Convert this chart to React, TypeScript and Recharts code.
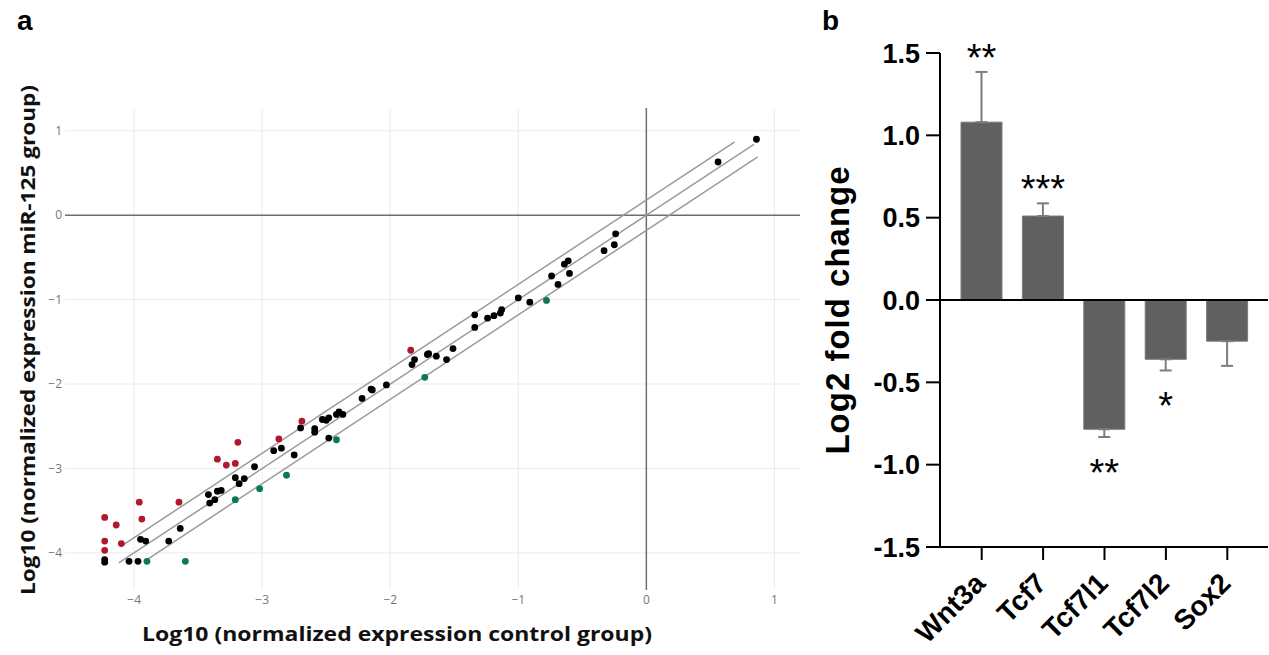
import React from "react"
import {
  Bar,
  BarChart,
  ErrorBar,
  Label,
  LabelList,
  ReferenceLine,
  Scatter,
  ScatterChart,
  XAxis,
  YAxis,
} from "recharts"

// panel a: log10 expression, [control, miR-125]
const upRegulated: [number, number][] = [
  [-4.23, -3.58], [-4.14, -3.67], [-4.23, -3.86], [-4.23, -3.97], [-4.1, -3.89],
  [-3.96, -3.4], [-3.94, -3.6], [-3.65, -3.4], [-3.35, -2.89], [-3.28, -2.96],
  [-3.21, -2.94], [-3.19, -2.69], [-2.87, -2.65], [-2.69, -2.44], [-1.84, -1.6],
]

const downRegulated: [number, number][] = [
  [-3.9, -4.1], [-3.6, -4.1], [-3.21, -3.37], [-3.02, -3.24],
  [-2.81, -3.08], [-2.42, -2.66], [-1.73, -1.92], [-0.78, -1.01],
]

const unchanged: [number, number][] = [
  [-4.23, -4.08], [-4.23, -4.11], [-4.04, -4.1], [-3.97, -4.1], [-3.95, -3.84],
  [-3.91, -3.86], [-3.73, -3.86], [-3.64, -3.71], [-3.42, -3.31], [-3.41, -3.41],
  [-3.37, -3.37], [-3.35, -3.27], [-3.32, -3.26], [-3.21, -3.11], [-3.18, -3.18],
  [-3.14, -3.12], [-3.06, -2.98], [-2.91, -2.79], [-2.85, -2.76], [-2.75, -2.84],
  [-2.7, -2.52], [-2.59, -2.53], [-2.59, -2.57], [-2.53, -2.42], [-2.5, -2.43],
  [-2.48, -2.4], [-2.48, -2.64], [-2.42, -2.36], [-2.4, -2.33], [-2.37, -2.36],
  [-2.22, -2.17], [-2.15, -2.06], [-2.14, -2.07], [-2.03, -2.01], [-1.83, -1.77],
  [-1.81, -1.71], [-1.71, -1.65], [-1.7, -1.64], [-1.64, -1.67], [-1.56, -1.71],
  [-1.51, -1.58], [-1.34, -1.33], [-1.34, -1.18], [-1.24, -1.22], [-1.19, -1.19],
  [-1.14, -1.16], [-1.13, -1.12], [-0.91, -1.03], [-1.0, -0.98], [-0.74, -0.72],
  [-0.69, -0.82], [-0.6, -0.69], [-0.64, -0.58], [-0.61, -0.54], [-0.33, -0.42],
  [-0.25, -0.35], [-0.24, -0.22], [0.56, 0.63], [0.86, 0.9],
]

// fold-change threshold lines, [x1, y1, x2, y2]
const thresholdLines: [number, number, number, number][] = [
  [-4.08, -3.9, 0.69, 0.87],
  [-4.12, -4.12, 0.84, 0.84],
  [-3.92, -4.1, 0.87, 0.69],
]

const scatterTicks = [-4, -3, -2, -1, 0, 1]
const gridValues = [-4, -3, -2, -1, 1]

// panel b
const genes = ["Wnt3a", "Tcf7", "Tcf7l1", "Tcf7l2", "Sox2"]
const log2Fold = [1.08, 0.51, -0.785, -0.36, -0.25]
const sem = [0.305, 0.077, 0.047, 0.068, 0.15]
const stars = ["**", "***", "**", "*", ""]
const barTicks = [-1.5, -1, -0.5, 0, 0.5, 1, 1.5]

const toPoints = (list: [number, number][]) => list.map(([x, y]) => ({ x, y }))

const barRows = genes.map((gene, i) => ({
  gene,
  value: log2Fold[i],
  err: log2Fold[i] >= 0 ? [0, sem[i]] : [sem[i], 0],
}))

const ARIAL = "'Liberation Sans', Arial, sans-serif"
const TITLE_FONT = "'Open Sans', 'Noto Sans', sans-serif"

const minus = (v: number) => (v < 0 ? `\u2212${-v}` : `${v}`)

const dot = (color: string) => (p: any) => <circle cx={p.cx} cy={p.cy} r={3.4} fill={color} />

const GeneTick = (props: any) => {
  const { x, y, payload } = props
  const px = x + 5
  const py = y + 23
  return (
    <text
      x={px}
      y={py}
      transform={`rotate(-45 ${px} ${py})`}
      textAnchor="end"
      fontFamily={ARIAL}
      fontWeight="bold"
      fontSize={28}
      fill="#000"
    >
      {payload.value}
    </text>
  )
}

const StarLabel = (props: any) => {
  const vb = props.viewBox ?? props
  const { x, y, width, height, value, index } = { ...vb, value: props.value, index: props.index }
  const i = typeof index === "number" ? index : log2Fold.indexOf(value)
  const text = stars[i]
  if (!text) return null
  const top = Math.min(y, y + height)
  const bottom = Math.max(y, y + height)
  const ppu = Math.abs(height) / Math.abs(value)
  const center = value >= 0 ? top - sem[i] * ppu - 23 : bottom + sem[i] * ppu + 27
  return (
    <text x={x + width / 2} y={center + 22} textAnchor="middle" fontFamily={ARIAL} fontSize={38} fill="#000">
      {text}
    </text>
  )
}

export default function App() {
  return (
    <div style={{ position: "absolute", left: 0, top: 0, width: 1269, height: 655, background: "#fff" }}>
      <div style={{ position: "absolute", left: 0, top: 0 }}>
        <ScatterChart width={820} height={655} margin={{ top: 108, right: 20, bottom: 20, left: 15 }}>
          <XAxis
            type="number"
            dataKey="x"
            domain={[-4.54, 1.2]}
            ticks={scatterTicks}
            allowDataOverflow
            axisLine={false}
            tickLine={false}
            tickSize={0}
            tickMargin={5}
            height={45}
            tickFormatter={minus}
            tick={{ fill: "#777", fontSize: 12, fontFamily: TITLE_FONT }}
          >
            <Label
              content={(p: any) => (
                <text
                  x={397}
                  y={p.viewBox.y + 51}
                  textAnchor="middle"
                  fontFamily={TITLE_FONT}
                  fontWeight={700}
                  fontSize={20}
                  fill="#111"
                  textLength={510}
                  lengthAdjust="spacingAndGlyphs"
                >
                  Log10 (normalized expression control group)
                </text>
              )}
            />
          </XAxis>
          <YAxis
            type="number"
            dataKey="y"
            domain={[-4.44, 1.27]}
            ticks={scatterTicks}
            allowDataOverflow
            axisLine={false}
            tickLine={false}
            tickSize={0}
            tickMargin={3}
            width={50}
            tickFormatter={minus}
            tick={{ fill: "#777", fontSize: 12, fontFamily: TITLE_FONT }}
          >
            <Label
              content={(p: any) => {
                const tx = p.viewBox.x + 20
                const ty = 340
                return (
                  <text
                    x={tx}
                    y={ty}
                    transform={`rotate(-90 ${tx} ${ty})`}
                    textAnchor="middle"
                    fontFamily={TITLE_FONT}
                    fontWeight={700}
                    fontSize={20}
                    fill="#111"
                    textLength={510}
                    lengthAdjust="spacingAndGlyphs"
                  >
                    Log10 (normalized expression miR-125 group)
                  </text>
                )
              }}
            />
          </YAxis>
          {gridValues.map((v) => (
            <ReferenceLine key={`gx${v}`} x={v} stroke="#ececec" strokeWidth={1} />
          ))}
          {gridValues.map((v) => (
            <ReferenceLine key={`gy${v}`} y={v} stroke="#ececec" strokeWidth={1} />
          ))}
          <ReferenceLine x={0} stroke="#6e6e6e" strokeWidth={1.5} />
          <ReferenceLine y={0} stroke="#6e6e6e" strokeWidth={1.5} />
          {thresholdLines.map(([x1, y1, x2, y2], i) => (
            <ReferenceLine
              key={i}
              segment={[
                { x: x1, y: y1 },
                { x: x2, y: y2 },
              ]}
              stroke="#9a9a9a"
              strokeWidth={1.5}
            />
          ))}
          <Scatter data={toPoints(unchanged)} shape={dot("#000")} isAnimationActive={false} />
          <Scatter data={toPoints(upRegulated)} shape={dot("#b0182b")} isAnimationActive={false} />
          <Scatter data={toPoints(downRegulated)} shape={dot("#0d7a4e")} isAnimationActive={false} />
        </ScatterChart>
      </div>

      <div style={{ position: "absolute", left: 800, top: 0 }}>
        <BarChart width={469} height={655} data={barRows} margin={{ top: 53, right: 1, left: 60, bottom: 8 }}>
          <XAxis
            dataKey="gene"
            height={100}
            padding={{ left: 11, right: 10 }}
            interval={0}
            axisLine={{ stroke: "#000", strokeWidth: 2 }}
            tickLine={{ stroke: "#000", strokeWidth: 2 }}
            tickSize={13}
            tick={<GeneTick />}
          />
          <YAxis
            type="number"
            domain={[-1.5, 1.5]}
            ticks={barTicks}
            width={80}
            axisLine={{ stroke: "#000", strokeWidth: 2 }}
            tickLine={{ stroke: "#000", strokeWidth: 2 }}
            tickSize={14}
            tickMargin={6}
            tickFormatter={(v: number) => v.toFixed(1)}
            tick={{ fill: "#000", fontSize: 27, fontWeight: "bold", fontFamily: ARIAL }}
          >
            <Label
              content={(p: any) => {
                const tx = p.viewBox.x - 11
                const ty = 310
                return (
                  <text
                    x={tx}
                    y={ty}
                    transform={`rotate(-90 ${tx} ${ty})`}
                    textAnchor="middle"
                    fontFamily={ARIAL}
                    fontWeight="bold"
                    fontSize={33}
                    letterSpacing={1}
                    fill="#000"
                  >
                    Log2 fold change
                  </text>
                )
              }}
            />
          </YAxis>
          <ReferenceLine y={0} stroke="#000" strokeWidth={2} />
          <Bar dataKey="value" fill="#606060" stroke="#7a7a7a" strokeWidth={1} barSize={41} isAnimationActive={false}>
            <ErrorBar dataKey="err" width={6} stroke="#7d7d7d" strokeWidth={2} />
            <LabelList dataKey="value" content={StarLabel} />
          </Bar>
        </BarChart>
      </div>

      <svg width={1269} height={655} style={{ position: "absolute", left: 0, top: 0, pointerEvents: "none" }}>
        <text x={17} y={30} fontFamily={ARIAL} fontWeight="bold" fontSize={28} fill="#000">
          a
        </text>
        <text x={822} y={30} fontFamily={ARIAL} fontWeight="bold" fontSize={28} fill="#000">
          b
        </text>
      </svg>
    </div>
  )
}
